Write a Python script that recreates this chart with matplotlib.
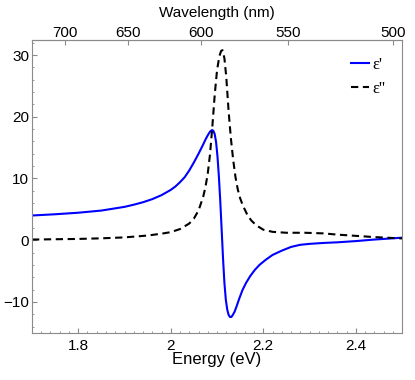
# dielectric function of a resonant film: real and imaginary parts
import matplotlib
matplotlib.use('Agg')
from matplotlib import pyplot as plt
from matplotlib.ticker import MultipleLocator, NullLocator

# data (energy in eV)
energy_re = [1.70, 1.75, 1.80, 1.85, 1.90, 1.92, 1.94, 1.96, 1.98, 2.00,
             2.01, 2.02, 2.03, 2.04, 2.05, 2.06, 2.07, 2.075, 2.08, 2.085,
             2.089, 2.092, 2.095, 2.098, 2.101, 2.104, 2.107, 2.110, 2.113, 2.116,
             2.119, 2.122, 2.125, 2.128, 2.131, 2.134, 2.138, 2.142, 2.148, 2.155,
             2.163, 2.172, 2.182, 2.192, 2.205, 2.22, 2.24, 2.26, 2.28, 2.30,
             2.33, 2.36, 2.40, 2.44, 2.47, 2.50]
eps_re = [4.0, 4.2, 4.45, 4.8, 5.4, 5.75, 6.15, 6.65, 7.3, 8.15,
          8.7, 9.4, 10.2, 11.3, 12.6, 14.0, 15.5, 16.3, 17.0, 17.6,
          17.85, 17.75, 17.2, 15.9, 13.6, 10.4, 6.4, 1.8, -2.9, -6.9,
          -9.6, -11.2, -12.1, -12.45, -12.45, -12.15, -11.6, -10.8, -9.5, -8.1,
          -6.9, -5.8, -4.8, -4.0, -3.2, -2.4, -1.7, -1.1, -0.75, -0.6,
          -0.45, -0.35, -0.15, 0.1, 0.25, 0.4]

energy_im = [1.70, 1.75, 1.80, 1.85, 1.90, 1.95, 1.98, 2.00, 2.02, 2.04,
             2.05, 2.06, 2.07, 2.075, 2.08, 2.085, 2.09, 2.095, 2.10, 2.105,
             2.109, 2.112, 2.116, 2.12, 2.125, 2.13, 2.135, 2.14, 2.145, 2.15,
             2.156, 2.165, 2.174, 2.185, 2.20, 2.22, 2.25, 2.29, 2.33, 2.36,
             2.40, 2.44, 2.50]
eps_im = [0.1, 0.15, 0.2, 0.3, 0.45, 0.75, 1.05, 1.3, 1.8, 2.7,
          3.5, 4.8, 7.0, 8.6, 10.8, 14.0, 18.5, 23.5, 27.5, 29.8,
          30.7, 30.8, 29.5, 26.5, 21.0, 16.5, 13.0, 10.2, 8.2, 6.8,
          5.6, 4.2, 3.2, 2.4, 1.7, 1.35, 1.2, 1.2, 1.1, 0.9,
          0.7, 0.5, 0.28]

wavelength_ticks = [700, 650, 600, 550, 500]

plt.rcParams['font.family'] = ['Liberation Sans', 'DejaVu Sans']
frame = '#8a8a8a'

fig = plt.figure(figsize=(4.15, 3.8), dpi=100)
ax = fig.add_axes([0.0771, 0.1245, 0.8916, 0.7694])

ax.plot(energy_re, eps_re, color='#0000ff', lw=1.5, label="ε'")
ax.plot(energy_im, eps_im, color='black', lw=1.5, ls=(0, (3.5, 2.2)), label="ε''")

ax.set_xlim(1.7, 2.5)
ax.set_ylim(-15, 32.4)
ax.xaxis.set_major_locator(MultipleLocator(0.2))
ax.xaxis.set_minor_locator(MultipleLocator(0.02))
ax.yaxis.set_major_locator(MultipleLocator(10))
ax.yaxis.set_minor_locator(MultipleLocator(2))
ax.set_xticks([1.8, 2.0, 2.2, 2.4], ['1.8', '2', '2.2', '2.4'])

for s in ax.spines.values():
    s.set_color(frame)
    s.set_linewidth(0.8)
ax.tick_params(which='both', direction='in', color=frame, top=False, right=False)
ax.tick_params(which='major', length=3.6, width=0.8, labelsize=11)
ax.tick_params(which='minor', length=1.6, width=0.6)
ax.tick_params(axis='x', pad=4.5)
ax.tick_params(axis='y', pad=2)

ax.set_xlabel('Energy (eV)', fontsize=12, labelpad=-0.5)

# wavelength scale on top
secax = ax.secondary_xaxis('top', functions=(lambda e: 1239.84 / e, lambda w: 1239.84 / w))
secax.set_xticks(wavelength_ticks)
secax.xaxis.set_minor_locator(NullLocator())
secax.tick_params(direction='in', length=3.6, width=0.8, color=frame, labelsize=11, pad=0.5)
secax.spines['top'].set_color(frame)
secax.set_xlabel('Wavelength (nm)', fontsize=11, labelpad=6)

ax.legend(loc='upper right', frameon=False, handlelength=1.1, handletextpad=0.2,
          labelspacing=0.5, borderaxespad=0.6, prop={'family': 'Liberation Serif', 'size': 12})

fig.savefig('out.png', dpi=100)
